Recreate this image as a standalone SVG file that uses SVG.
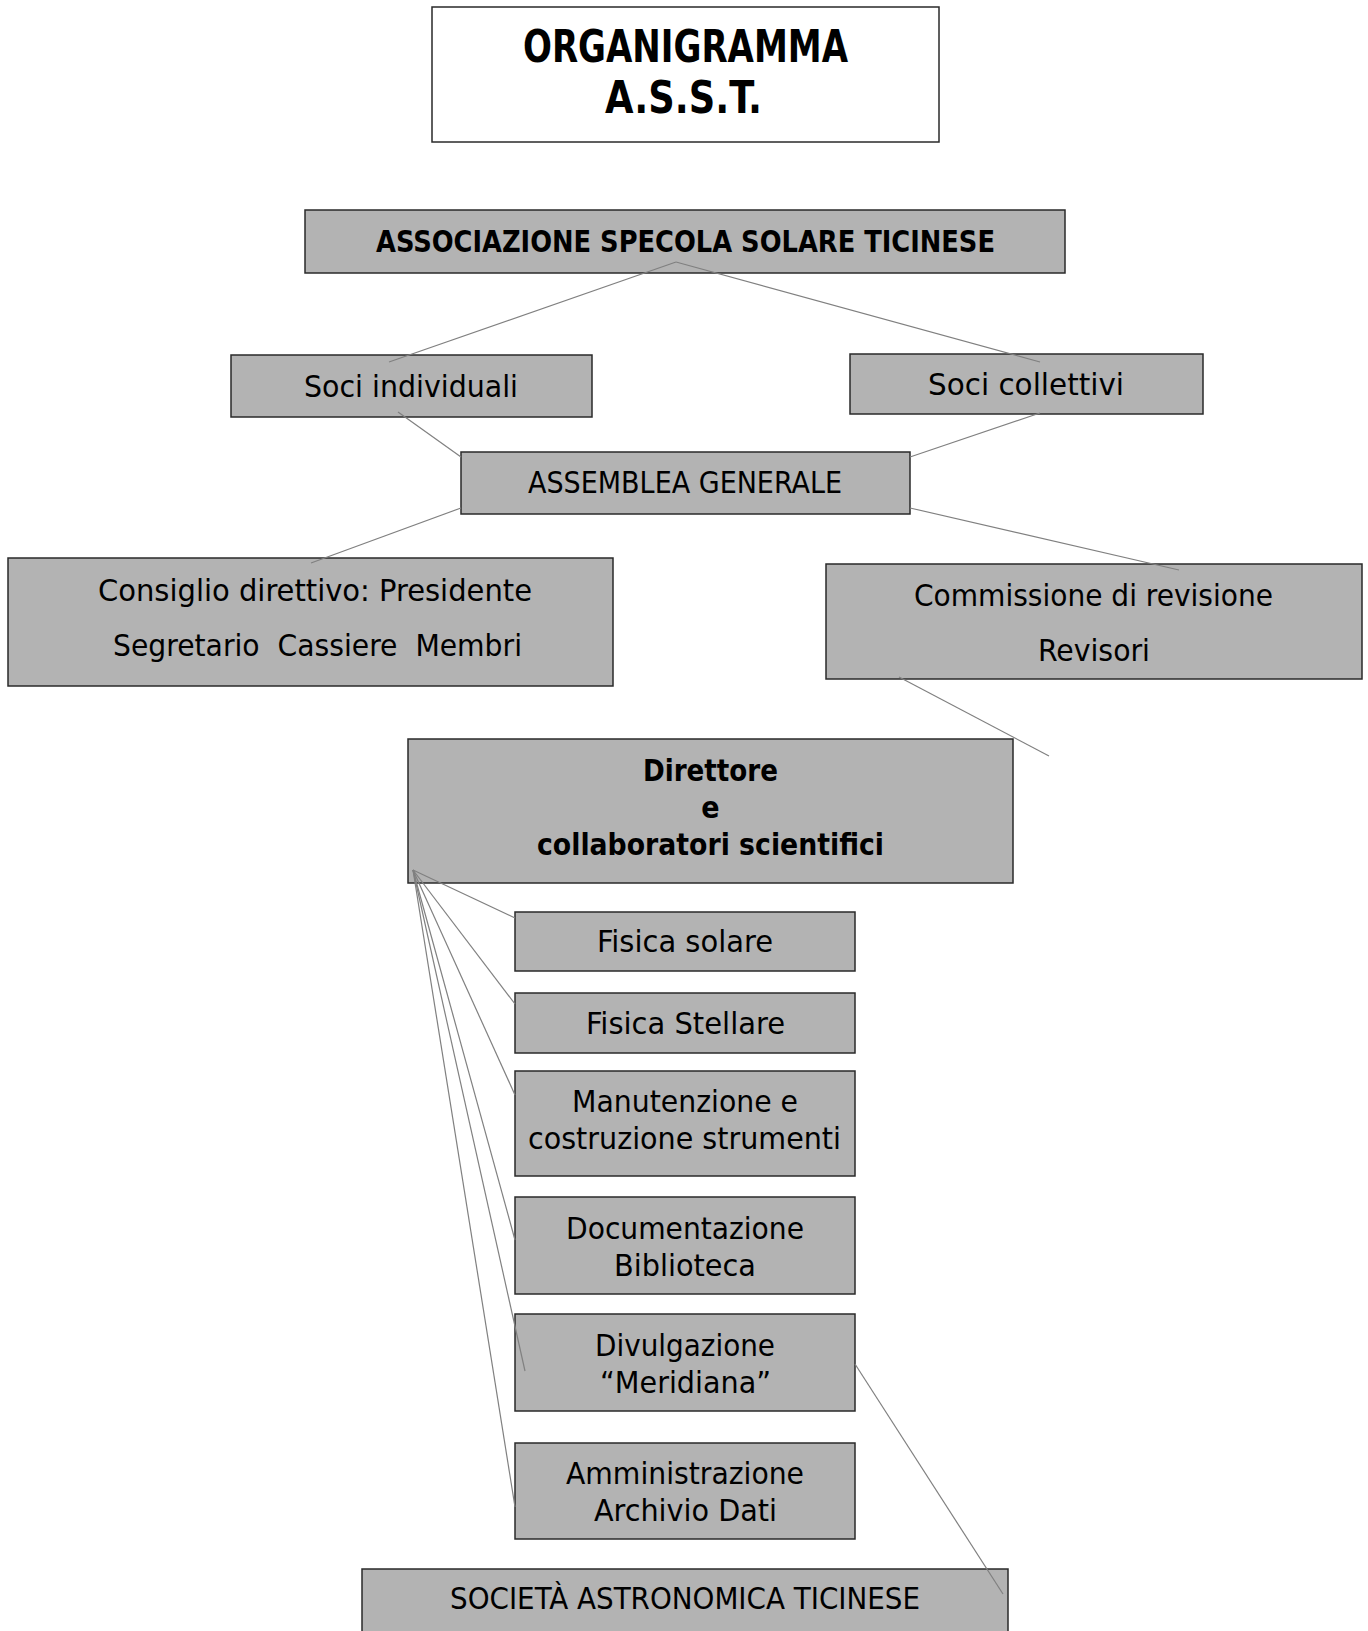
<svg xmlns="http://www.w3.org/2000/svg" width="1368" height="1631" viewBox="0 0 1368 1631">
<style>
.box{fill:#b3b3b3;stroke:#2a2a2a;stroke-width:1.5}
.title{fill:#ffffff;stroke:#2a2a2a;stroke-width:1.5}
text{font-family:"DejaVu Sans Condensed","DejaVu Sans",sans-serif;font-stretch:condensed;fill:#000;white-space:pre}
.t{font-size:30px}
.b{font-size:30px;font-weight:bold}
.h{font-size:44px;font-weight:bold}
.ln{stroke:#808080;stroke-width:1.2;fill:none}
</style>
<rect width="1368" height="1631" fill="#ffffff"/>
<g id="title">
<rect class="title" x="432" y="7" width="507" height="135"/>
<text class="h" x="523" y="62" textLength="325" lengthAdjust="spacingAndGlyphs">ORGANIGRAMMA</text>
<text class="h" x="605" y="113" textLength="157" lengthAdjust="spacingAndGlyphs">A.S.S.T.</text>
</g>
<g id="asst">
<rect class="box" x="305" y="210" width="760" height="63"/>
<text class="b" x="376" y="252" textLength="619" lengthAdjust="spacingAndGlyphs">ASSOCIAZIONE SPECOLA SOLARE TICINESE</text>
</g>
<g id="soci-individuali">
<rect class="box" x="231" y="355" width="361" height="62"/>
<text class="t" x="304" y="397" textLength="214" lengthAdjust="spacingAndGlyphs">Soci individuali</text>
</g>
<g id="soci-collettivi">
<rect class="box" x="850" y="354" width="353" height="60"/>
<text class="t" x="928" y="395" textLength="196" lengthAdjust="spacingAndGlyphs">Soci collettivi</text>
</g>
<g id="assemblea">
<rect class="box" x="461" y="452" width="449" height="62"/>
<text class="t" x="528" y="493" textLength="314" lengthAdjust="spacingAndGlyphs">ASSEMBLEA GENERALE</text>
</g>
<g id="consiglio">
<rect class="box" x="8" y="558" width="605" height="128"/>
<text class="t" x="98" y="601" textLength="434" lengthAdjust="spacingAndGlyphs">Consiglio direttivo: Presidente</text>
<text class="t" x="113" y="656" textLength="409" lengthAdjust="spacingAndGlyphs">Segretario  Cassiere  Membri</text>
</g>
<g id="commissione">
<rect class="box" x="826" y="564" width="536" height="115"/>
<text class="t" x="914" y="606" textLength="359" lengthAdjust="spacingAndGlyphs">Commissione di revisione</text>
<text class="t" x="1038" y="661" textLength="112" lengthAdjust="spacingAndGlyphs">Revisori</text>
</g>
<g id="direttore">
<rect class="box" x="408" y="739" width="605" height="144"/>
<text class="b" x="643" y="781" textLength="135" lengthAdjust="spacingAndGlyphs">Direttore</text>
<text class="b" x="710.5" y="818" text-anchor="middle">e</text>
<text class="b" x="537" y="855" textLength="347" lengthAdjust="spacingAndGlyphs">collaboratori scientifici</text>
</g>
<g id="fisica-solare">
<rect class="box" x="515" y="912" width="340" height="59"/>
<text class="t" x="597" y="952" textLength="176" lengthAdjust="spacingAndGlyphs">Fisica solare</text>
</g>
<g id="fisica-stellare">
<rect class="box" x="515" y="993" width="340" height="60"/>
<text class="t" x="586" y="1034" textLength="199" lengthAdjust="spacingAndGlyphs">Fisica Stellare</text>
</g>
<g id="manutenzione">
<rect class="box" x="515" y="1071" width="340" height="105"/>
<text class="t" x="572" y="1112" textLength="226" lengthAdjust="spacingAndGlyphs">Manutenzione e</text>
<text class="t" x="528" y="1149" textLength="313" lengthAdjust="spacingAndGlyphs">costruzione strumenti</text>
</g>
<g id="documentazione">
<rect class="box" x="515" y="1197" width="340" height="97"/>
<text class="t" x="566" y="1239" textLength="238" lengthAdjust="spacingAndGlyphs">Documentazione</text>
<text class="t" x="614" y="1276" textLength="142" lengthAdjust="spacingAndGlyphs">Biblioteca</text>
</g>
<g id="divulgazione">
<rect class="box" x="515" y="1314" width="340" height="97"/>
<text class="t" x="595" y="1356" textLength="180" lengthAdjust="spacingAndGlyphs">Divulgazione</text>
<text class="t" x="600" y="1393" textLength="171" lengthAdjust="spacingAndGlyphs">“Meridiana”</text>
</g>
<g id="amministrazione">
<rect class="box" x="515" y="1443" width="340" height="96"/>
<text class="t" x="566" y="1484" textLength="238" lengthAdjust="spacingAndGlyphs">Amministrazione</text>
<text class="t" x="594" y="1521" textLength="183" lengthAdjust="spacingAndGlyphs">Archivio Dati</text>
</g>
<g id="societa">
<rect class="box" x="362" y="1569" width="646" height="80"/>
<text class="t" x="450" y="1609" textLength="470" lengthAdjust="spacingAndGlyphs">SOCIETÀ ASTRONOMICA TICINESE</text>
</g>
<g id="connectors">
<line class="ln" x1="676" y1="262" x2="389" y2="362"/>
<line class="ln" x1="676" y1="262" x2="1040" y2="362"/>
<line class="ln" x1="398" y1="412" x2="461" y2="457"/>
<line class="ln" x1="1040" y1="413" x2="910" y2="457"/>
<line class="ln" x1="461" y1="508" x2="311" y2="563"/>
<line class="ln" x1="910" y1="508" x2="1179" y2="570"/>
<line class="ln" x1="899" y1="677" x2="1049" y2="756"/>
<line class="ln" x1="413" y1="870" x2="515" y2="918"/>
<line class="ln" x1="413" y1="870" x2="515" y2="1004"/>
<line class="ln" x1="413" y1="870" x2="515" y2="1095"/>
<line class="ln" x1="413" y1="870" x2="515" y2="1240"/>
<line class="ln" x1="413" y1="870" x2="525" y2="1371"/>
<line class="ln" x1="413" y1="870" x2="515" y2="1507"/>
<line class="ln" x1="855" y1="1364" x2="1003" y2="1594"/>
</g>
</svg>
